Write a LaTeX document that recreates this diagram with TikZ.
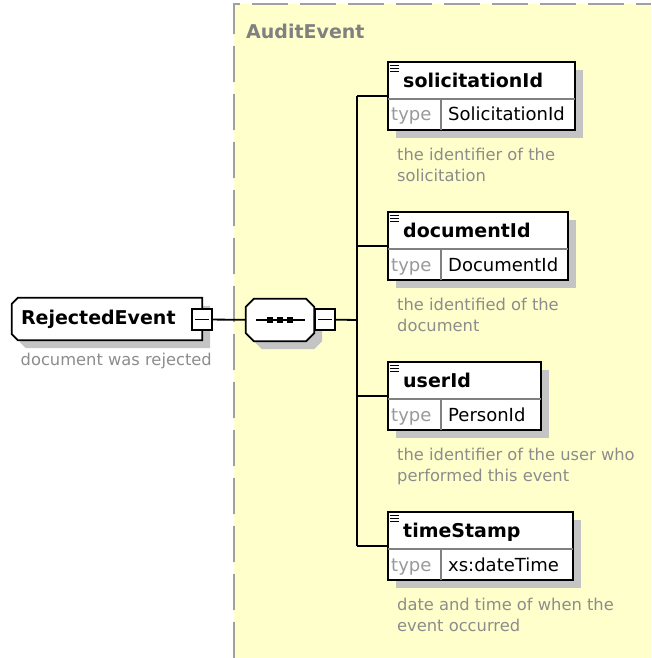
\documentclass[tikz,border=0pt]{standalone}
\usepackage{fontspec}
\setmainfont{DejaVu Sans}
\usepackage{tikz}
\usetikzlibrary{positioning,backgrounds}
\definecolor{auditbg}{HTML}{FFFFCC}
\definecolor{edgegray}{HTML}{A0A0A0}
\definecolor{shadowgray}{HTML}{C4C4C4}
\definecolor{notegray}{HTML}{8C8C8C}
\begin{document}
\begin{tikzpicture}[x=1pt, y=-1pt,
  auditbox/.style={fill=auditbg, minimum width=417pt, minimum height=654pt, inner sep=0pt, anchor=north west},
  auditedge/.style={draw=edgegray, line width=2.4pt, dash pattern=on 36pt off 12pt},
  grouplbl/.style={font=\fontsize{19}{22}\selectfont\bfseries, text=black!50, inner sep=0pt, anchor=base west},
  dshadow/.style={preaction={fill=shadowgray, transform canvas={xshift=8pt, yshift=-8pt}}},
  outline/.style={draw, line width=1.8pt, fill=white, dshadow},
  rootelem/.style={minimum height=42pt, text width=172pt, align=left, inner xsep=9pt, inner ysep=0pt, font=\fontsize{19}{22}\selectfont\bfseries},
  compositor/.style={minimum width=68pt, minimum height=42pt, inner sep=0pt},
  minusbox/.style={draw, line width=1.4pt, fill=white, minimum width=20pt, minimum height=21pt, inner sep=0pt},
  minusline/.style={line width=1.4pt},
  elem/.style={draw, line width=1.8pt, fill=white, minimum height=68pt, inner sep=0pt, anchor=north west, dshadow},
  elemname/.style={font=\fontsize{19}{22}\selectfont\bfseries, inner sep=0pt, anchor=base west},
  typelbl/.style={font=\fontsize{18}{20}\selectfont, text=black!40, inner sep=0pt, anchor=base west},
  typeval/.style={font=\fontsize{18}{20}\selectfont, inner sep=0pt, anchor=base west},
  note/.style={font=\fontsize{16.3}{21}\selectfont, text=notegray, align=left, inner sep=0pt, anchor=base west},
  rowsep/.style={draw=black!50, line width=1.3pt, shorten <=0.9pt, shorten >=0.9pt},
  iconline/.style={line width=1.2pt},
  conn/.style={line width=1.8pt}]
\useasboundingbox (0,0) rectangle (651,658);
% the AuditEvent group
\node[auditbox] (audit) at (234,4) {};
\draw[auditedge] (audit.south west) -- (audit.north west) -- (audit.north east);
\node[grouplbl] (auditLbl) at (246,39) {AuditEvent};
% root element and its sequence
\node[rootelem] (rej) at (107,319) {RejectedEvent};
\begin{scope}[on background layer]
\draw[outline] ([xshift=6pt]rej.north west) -- (rej.north east) -- (rej.south east) -- ([xshift=6pt]rej.south west)
  -- ([yshift=6pt]rej.south west) -- ([yshift=-6pt]rej.north west) -- cycle;
\end{scope}
\node[minusbox] (rejM) at (202,319.5) {};
\draw[minusline] ([xshift=4pt]rejM.west) -- ([xshift=-4pt]rejM.east);
\node[note] (rejN) at (20.5,365) {document was rejected};
\node[compositor] (seq) at (280,320) {};
\draw[outline] ([xshift=8pt]seq.north west) -- ([xshift=-8pt]seq.north east) -- ([yshift=-8pt]seq.north east)
  -- ([yshift=8pt]seq.south east) -- ([xshift=-8pt]seq.south east) -- ([xshift=8pt]seq.south west)
  -- ([yshift=8pt]seq.south west) -- ([yshift=-8pt]seq.north west) -- cycle;
\draw[minusline] ([xshift=10pt]seq.west) -- ([xshift=-9pt]seq.east);
\foreach \dx in {-10,0,10} \fill ([xshift=\dx pt]seq.center) +(-3,-3) rectangle +(3,3);
\node[minusbox] (seqM) at (325,319.5) {};
\draw[minusline] ([xshift=4pt]seqM.west) -- ([xshift=-4pt]seqM.east);
% child elements
\node[elem, minimum width=187pt] (solBox) at (387,61) {};
\node[elemname] (sol) at (403,87.5) {solicitationId};
\node[typelbl] (solT) at (391,121) {type};
\node[typeval] (solV) at (448,121) {SolicitationId};
\node[note] (solN) at (397,181) {the identifier of the\\solicitation};
\node[elem, minimum width=180pt] (docBox) at (387,211) {};
\node[elemname] (doc) at (403,237.5) {documentId};
\node[typelbl] (docT) at (391,271) {type};
\node[typeval] (docV) at (448,271) {DocumentId};
\node[note] (docN) at (397,331) {the identified of the\\document};
\node[elem, minimum width=153pt] (usrBox) at (387,361) {};
\node[elemname] (usr) at (403,387) {userId};
\node[typelbl] (usrT) at (391,421) {type};
\node[typeval] (usrV) at (448,421) {PersonId};
\node[note] (usrN) at (397,481) {the identifier of the user who\\performed this event};
\node[elem, minimum width=185pt] (tsBox) at (387,511) {};
\node[elemname] (ts) at (403,537.5) {timeStamp};
\node[typelbl] (tsT) at (391,571) {type};
\node[typeval] (tsV) at (448,571) {xs:dateTime};
\node[note] (tsN) at (397,631) {date and time of when the\\event occurred};
\foreach \el in {sol,doc,usr,ts} {
  \draw[rowsep] ([yshift=-38pt]\el Box.north west) -- ([yshift=-38pt]\el Box.north east);
  \draw[rowsep] ([xshift=54pt,yshift=-38pt]\el Box.north west) -- ([xshift=54pt]\el Box.south west);
  \foreach \dy in {4.5,7.5,10.5}
    \draw[iconline] ([xshift=3pt,yshift=-\dy pt]\el Box.north west) -- +(9,0);
}
% connectors
\coordinate (spine) at (357,320);
\draw[conn] (rejM) -- (seq); \draw[conn] (seqM) -- (spine);
\draw[conn] (spine |- solBox.west) -- (spine |- tsBox.west);
\draw[conn] (spine |- solBox.west) -- (solBox.west); \draw[conn] (spine |- docBox.west) -- (docBox.west);
\draw[conn] (spine |- usrBox.west) -- (usrBox.west); \draw[conn] (spine |- tsBox.west) -- (tsBox.west);
\end{tikzpicture}
\end{document}
